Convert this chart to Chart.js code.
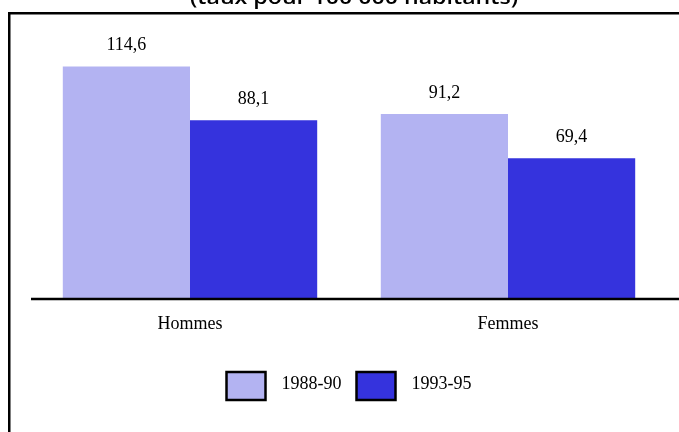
<!DOCTYPE html>
<html>
<head>
<meta charset="utf-8">
<script src="https://cdn.jsdelivr.net/npm/chart.js@4"></script>
<style>
  html, body { margin: 0; padding: 0; background: #ffffff; }
  #wrap { width: 679px; height: 432px; position: relative; }
</style>
</head>
<body>
<div id="wrap"><canvas id="c" width="679" height="432"></canvas></div>
<script>
// Données
const categories = ['Hommes', 'Femmes'];
const seriesLabels = ['1988-90', '1993-95'];
const values1988 = [114.6, 91.2];
const values1993 = [88.1, 69.4];
const subtitle = '(taux pour 100 000 habitants)';

const colors = ['#b3b3f2', '#3533dd'];
const serif = '"Liberation Serif", "Times New Roman", serif';

const fmt = v => v.toFixed(1).replace('.', ',');

// Cadre, titre, axe, étiquettes et légende
const decorations = {
  id: 'decorations',
  afterDraw(chart) {
    const ctx = chart.ctx;
    const area = chart.chartArea;
    const xs = chart.scales.x;
    const ys = chart.scales.y;
    ctx.save();

    // cadre
    ctx.strokeStyle = '#000';
    ctx.lineWidth = 2.5;
    ctx.strokeRect(9.25, 13.25, 720, 460);

    // titre (partiellement hors cadre)
    ctx.fillStyle = '#000';
    ctx.font = '600 20px "Open Sans", sans-serif';
    ctx.textAlign = 'center';
    ctx.textBaseline = 'alphabetic';
    const w = ctx.measureText(subtitle).width;
    const target = 328;
    ctx.save();
    ctx.translate(354, 4);
    ctx.scale(target / w, 1);
    ctx.fillText(subtitle, 0, 0);
    ctx.restore();

    // ligne de base
    const y0 = ys.getPixelForValue(0);
    ctx.lineWidth = 2.5;
    ctx.beginPath();
    ctx.moveTo(area.left, y0);
    ctx.lineTo(chart.width, y0);
    ctx.stroke();

    // valeurs au-dessus des barres
    ctx.font = '18px ' + serif;
    ctx.textBaseline = 'middle';
    chart.data.datasets.forEach((ds, i) => {
      chart.getDatasetMeta(i).data.forEach((bar, j) => {
        ctx.fillText(fmt(ds.data[j]), bar.x, bar.y - 21);
      });
    });

    // catégories
    categories.forEach((c, j) => {
      ctx.fillText(c, xs.getPixelForValue(j), 324);
    });

    // légende
    const boxW = 39, boxH = 28, gapText = 16, gapItem = 15;
    ctx.textAlign = 'left';
    const items = chart.data.datasets.map(ds => ({
      label: ds.label, color: ds.backgroundColor,
      tw: ctx.measureText(ds.label).width
    }));
    let total = 0;
    items.forEach((it, k) => {
      total += boxW + gapText + it.tw + (k < items.length - 1 ? gapItem : 0);
    });
    let x = (area.left + area.right) / 2 - total / 2;
    const ly = 386;
    items.forEach(it => {
      ctx.fillStyle = it.color;
      ctx.fillRect(x, ly - boxH / 2, boxW, boxH);
      ctx.strokeStyle = '#000';
      ctx.lineWidth = 2.5;
      ctx.strokeRect(x, ly - boxH / 2, boxW, boxH);
      ctx.fillStyle = '#000';
      ctx.fillText(it.label, x + boxW + gapText, ly - 2);
      x += boxW + gapText + it.tw + gapItem;
    });

    ctx.restore();
  }
};

new Chart(document.getElementById('c'), {
  type: 'bar',
  data: {
    labels: categories,
    datasets: [
      { label: seriesLabels[0], data: values1988, backgroundColor: colors[0] },
      { label: seriesLabels[1], data: values1993, backgroundColor: colors[1] }
    ]
  },
  options: {
    responsive: false,
    animation: false,
    layout: { padding: { left: 31, right: 12, top: 15, bottom: 133 } },
    datasets: { bar: { categoryPercentage: 0.8, barPercentage: 1.0 } },
    scales: {
      x: { display: false },
      y: { display: false, min: 0, max: 140 }
    },
    plugins: {
      legend: { display: false },
      tooltip: { enabled: false }
    }
  },
  plugins: [decorations]
});
</script>
</body>
</html>
